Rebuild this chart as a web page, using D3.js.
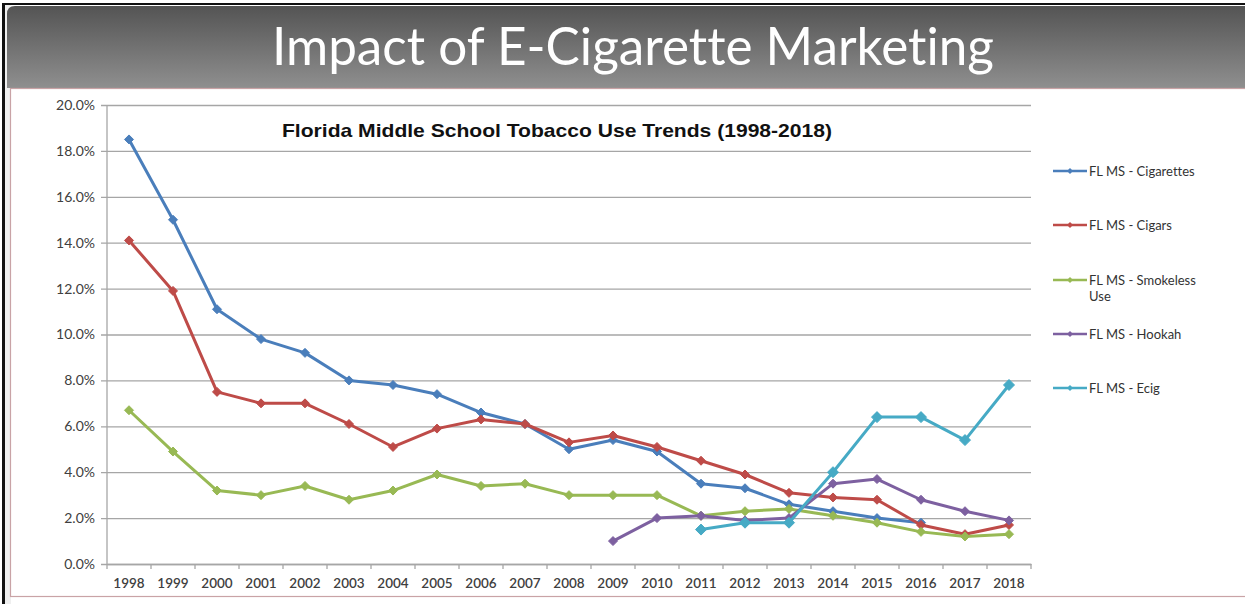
<!DOCTYPE html>
<html>
<head>
<meta charset="utf-8">
<script src="https://cdn.jsdelivr.net/npm/d3@7"></script>
<style>
  html, body { margin: 0; padding: 0; background: #ffffff; }
  svg { display: block; }
  text { font-variant-ligatures: none; }
</style>
</head>
<body>
<svg id="chart" width="1245" height="604"></svg>
<script>
// Florida middle school tobacco use, percent of students (1998-2018)
const years = ["1998","1999","2000","2001","2002","2003","2004","2005","2006","2007",
               "2008","2009","2010","2011","2012","2013","2014","2015","2016","2017","2018"];

const cigarettes = [18.5, 15.0, 11.1, 9.8, 9.2, 8.0, 7.8, 7.4, 6.6, 6.1,
                    5.0, 5.4, 4.9, 3.5, 3.3, 2.6, 2.3, 2.0, 1.8, null, null];
const cigars     = [14.1, 11.9, 7.5, 7.0, 7.0, 6.1, 5.1, 5.9, 6.3, 6.1,
                    5.3, 5.6, 5.1, 4.5, 3.9, 3.1, 2.9, 2.8, 1.7, 1.3, 1.7];
const smokeless  = [6.7, 4.9, 3.2, 3.0, 3.4, 2.8, 3.2, 3.9, 3.4, 3.5,
                    3.0, 3.0, 3.0, 2.1, 2.3, 2.4, 2.1, 1.8, 1.4, 1.2, 1.3];
const hookah     = [null, null, null, null, null, null, null, null, null, null,
                    null, 1.0, 2.0, 2.1, 1.9, 2.0, 3.5, 3.7, 2.8, 2.3, 1.9];
const ecig       = [null, null, null, null, null, null, null, null, null, null,
                    null, null, null, 1.5, 1.8, 1.8, 4.0, 6.4, 6.4, 5.4, 7.8];

const seriesNames  = ["FL MS - Cigarettes", "FL MS - Cigars", "FL MS - Smokeless Use", "FL MS - Hookah", "FL MS - Ecig"];
const seriesColors = ["#4A7EBB", "#BE4B48", "#98B954", "#7D60A0", "#46AAC5"];
const yTicks = [0, 2, 4, 6, 8, 10, 12, 14, 16, 18, 20];

const pageTitle  = "Impact of E-Cigarette Marketing";
const chartTitle = "Florida Middle School Tobacco Use Trends (1998-2018)";

const seriesValues = [cigarettes, cigars, smokeless, hookah, ecig];

const svg = d3.select("#chart");

// ---------- slide frame ----------
const defs = svg.append("defs");
const grad = defs.append("linearGradient").attr("id", "barGrad")
  .attr("x1", 0).attr("y1", 0).attr("x2", 0).attr("y2", 1);
grad.append("stop").attr("offset", "0%").attr("stop-color", "#545454");
grad.append("stop").attr("offset", "100%").attr("stop-color", "#8f8f8f");

svg.append("rect").attr("x", 0).attr("y", 0).attr("width", 1245).attr("height", 604).attr("fill", "#ffffff");
// light margin strip on the left
svg.append("rect").attr("x", 5).attr("y", 5).attr("width", 6).attr("height", 599).attr("fill", "#efefef");
// header bar
svg.append("path")
  .attr("d", "M7,14 Q7,6 15,6 L1245,6 L1245,88 L7,88 Z")
  .attr("fill", "url(#barGrad)");
// content panel with thin rose border
svg.append("rect").attr("x", 10.5).attr("y", 88.5).attr("width", 1250).attr("height", 508)
  .attr("fill", "#ffffff").attr("stroke", "#c9a3a6").attr("stroke-width", 1.2);
// outer black edges
svg.append("rect").attr("x", 2).attr("y", 3).attr("width", 3).attr("height", 601).attr("fill", "#111");
svg.append("rect").attr("x", 2).attr("y", 3).attr("width", 1243).attr("height", 2).attr("fill", "#111");

svg.append("text")
  .attr("x", 633).attr("y", 65)
  .attr("text-anchor", "middle")
  .attr("font-family", "Lato, 'Open Sans', sans-serif")
  .attr("font-weight", 400)
  .attr("font-size", 52)
  .attr("fill", "#ffffff")
  .attr("textLength", 722)
  .attr("lengthAdjust", "spacingAndGlyphs")
  .text(pageTitle);

// ---------- chart ----------
const plot = { left: 107, right: 1031, top: 105, bottom: 564 };

const x = d3.scaleBand().domain(years).range([plot.left, plot.right]);
const y = d3.scaleLinear().domain([0, 20]).range([plot.bottom, plot.top]);

// horizontal gridlines + y labels
const yAxis = d3.axisLeft(y)
  .tickValues(yTicks)
  .tickSize(-(plot.right - plot.left))
  .tickPadding(12)
  .tickFormat(d => d.toFixed(1) + "%");

const gy = svg.append("g").attr("transform", `translate(${plot.left},0)`).call(yAxis);
gy.select(".domain").remove();
gy.selectAll(".tick line").attr("stroke", "#a6a6a6").attr("stroke-width", 1.3).attr("x1", -6);
gy.selectAll(".tick text")
  .attr("font-family", "Lato, 'Open Sans', sans-serif")
  .attr("font-size", 14)
  .attr("fill", "#404040");

// vertical axis line
svg.append("line")
  .attr("x1", plot.left).attr("x2", plot.left)
  .attr("y1", plot.top).attr("y2", plot.bottom)
  .attr("stroke", "#a6a6a6").attr("stroke-width", 1.3);

// x axis with tick marks between categories
const xAxis = d3.axisBottom(x).tickSize(0).tickPadding(14);
const gx = svg.append("g").attr("transform", `translate(0,${plot.bottom})`).call(xAxis);
gx.select(".domain").attr("stroke", "#a6a6a6").attr("stroke-width", 1.3);
gx.selectAll(".tick text")
  .attr("font-family", "Lato, 'Open Sans', sans-serif")
  .attr("font-size", 13.5)
  .attr("font-weight", 600)
  .attr("fill", "#404040");
gx.selectAll(".boundary")
  .data(years.concat(["end"]))
  .join("line")
  .attr("class", "boundary")
  .attr("x1", (d, i) => plot.left + i * x.bandwidth())
  .attr("x2", (d, i) => plot.left + i * x.bandwidth())
  .attr("y1", 0).attr("y2", 5)
  .attr("stroke", "#a6a6a6").attr("stroke-width", 1.3);

// chart title
svg.append("text")
  .attr("x", 557).attr("y", 137)
  .attr("text-anchor", "middle")
  .attr("font-family", "'Liberation Sans', Arial, sans-serif")
  .attr("font-weight", "bold")
  .attr("font-size", 19)
  .attr("fill", "#111")
  .attr("textLength", 550)
  .attr("lengthAdjust", "spacingAndGlyphs")
  .text(chartTitle);

// lines and diamond markers
const cx = d => x(d.year) + x.bandwidth() / 2;
const line = d3.line().defined(d => d.v != null).x(cx).y(d => y(d.v));
const diamond = s => `M0,${-s} L${s},0 L0,${s} L${-s},0 Z`;

seriesValues.forEach((vals, si) => {
  const pts = years.map((yr, i) => ({ year: yr, v: vals[i] }));
  const g = svg.append("g");
  g.append("path")
    .datum(pts)
    .attr("d", line)
    .attr("fill", "none")
    .attr("stroke", seriesColors[si])
    .attr("stroke-width", 3)
    .attr("stroke-linejoin", "round")
    .attr("stroke-linecap", "round");
  const size = si === 4 ? 5.5 : 4.5;
  g.selectAll("path.m")
    .data(pts.filter(d => d.v != null))
    .join("path")
    .attr("class", "m")
    .attr("d", diamond(size))
    .attr("transform", d => `translate(${cx(d)},${y(d.v)})`)
    .attr("fill", seriesColors[si])
    .attr("stroke", seriesColors[si])
    .attr("stroke-width", 1);
});

// legend
const legendY = [171, 225, 280, 334, 388];
const lg = svg.append("g");
seriesNames.forEach((name, i) => {
  const row = lg.append("g").attr("transform", `translate(1053,${legendY[i]})`);
  row.append("line").attr("x1", 0).attr("x2", 34).attr("y1", 0).attr("y2", 0)
    .attr("stroke", seriesColors[i]).attr("stroke-width", 2.5);
  row.append("path").attr("d", diamond(3)).attr("transform", "translate(17,0)")
    .attr("fill", seriesColors[i]);
  const t = row.append("text")
    .attr("x", 36).attr("y", 4.5)
    .attr("font-family", "Lato, 'Open Sans', sans-serif")
    .attr("font-size", 13)
    .attr("fill", "#333");
  if (name === "FL MS - Smokeless Use") {
    t.append("tspan").attr("x", 36).text("FL MS - Smokeless");
    t.append("tspan").attr("x", 36).attr("dy", 16).text("Use");
  } else {
    t.text(name);
  }
});
</script>
</body>
</html>
